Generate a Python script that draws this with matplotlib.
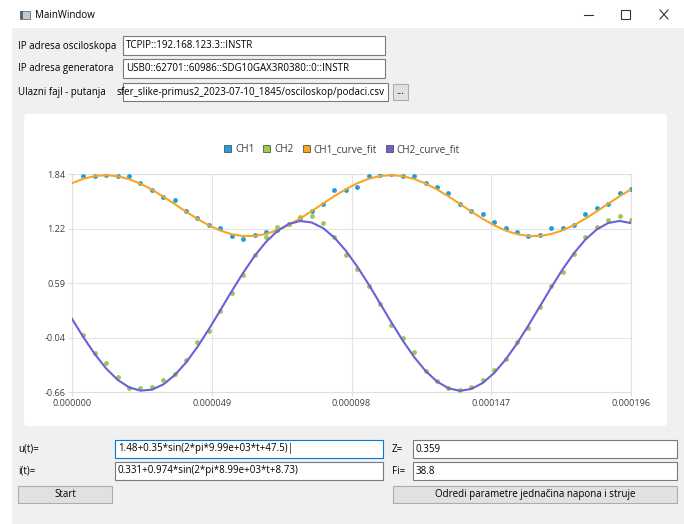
import matplotlib
matplotlib.use("Agg")
import matplotlib.pyplot as plt
from matplotlib.patches import Rectangle, FancyBboxPatch, Patch
import numpy as np

W, H = 684, 524

# samples (4 us spacing)
t_samples = np.arange(1, 50) * 4e-06
ch1 = [1.82, 1.82, 1.835, 1.82, 1.82, 1.74, 1.66, 1.58, 1.545, 1.42,
       1.34, 1.255, 1.22, 1.135, 1.10, 1.14, 1.18, 1.20, 1.27, 1.34,
       1.42, 1.50, 1.66, 1.66, 1.695, 1.82, 1.835, 1.84, 1.82, 1.82,
       1.74, 1.70, 1.62, 1.50, 1.415, 1.38, 1.295, 1.225, 1.18, 1.135,
       1.14, 1.22, 1.22, 1.26, 1.38, 1.455, 1.50, 1.62, 1.67]
ch2 = [0.0, -0.205, -0.32, -0.483, -0.605, -0.605, -0.603, -0.522, -0.448, -0.288,
       -0.083, 0.045, 0.276, 0.48, 0.68, 0.915, 1.117, 1.235, 1.27, 1.354,
       1.362, 1.278, 1.117, 0.915, 0.757, 0.557, 0.353, 0.115, -0.04, -0.20,
       -0.41, -0.53, -0.607, -0.634, -0.596, -0.522, -0.40, -0.282, -0.083, 0.077,
       0.315, 0.559, 0.723, 0.923, 1.121, 1.24, 1.316, 1.362, 1.316]

# fitted curves
t_fit = np.arange(0, 50) * 4e-06
fit1 = [1.738, 1.789, 1.820, 1.830, 1.818, 1.785, 1.733, 1.664, 1.585, 1.498,
        1.411, 1.328, 1.254, 1.195, 1.153, 1.132, 1.133, 1.156, 1.198, 1.259,
        1.333, 1.417, 1.504, 1.590, 1.669, 1.737, 1.788, 1.820, 1.830, 1.819,
        1.786, 1.734, 1.666, 1.587, 1.501, 1.413, 1.330, 1.256, 1.196, 1.154,
        1.133, 1.133, 1.155, 1.197, 1.257, 1.331, 1.415, 1.502, 1.588, 1.668]
fit2 = [0.183, -0.029, -0.222, -0.388, -0.517, -0.603, -0.641, -0.630, -0.570, -0.464,
        -0.318, -0.139, 0.064, 0.281, 0.500, 0.710, 0.902, 1.064, 1.189, 1.271,
        1.304, 1.288, 1.224, 1.114, 0.964, 0.783, 0.578, 0.360, 0.142, -0.068,
        -0.257, -0.416, -0.537, -0.614, -0.643, -0.622, -0.553, -0.439, -0.286, -0.102,
        0.105, 0.323, 0.541, 0.749, 0.935, 1.091, 1.208, 1.281, 1.305, 1.280]

xticks = [0.0, 0.000049, 0.000098, 0.000147, 0.000196]
xlabels = ["0.000000", "0.000049", "0.000098", "0.000147", "0.000196"]
yticks = [-0.66, -0.035, 0.59, 1.215, 1.84]
ylabels = ["-0.66", "-0.04", "0.59", "1.22", "1.84"]

names = ["CH1", "CH2", "CH1_curve_fit", "CH2_curve_fit"]
colors = ["#209fdf", "#99ca53", "#f6a625", "#6d5fd5"]

u_text = "1.48+0.35*sin(2*pi*9.99e+03*t+47.5)"
i_text = "0.331+0.974*sin(2*pi*8.99e+03*t+8.73)"
z_text = "0.359"
fi_text = "38.8"

plt.rcParams['font.family'] = ['Open Sans', 'DejaVu Sans']

fig = plt.figure(figsize=(W / 100, H / 100), dpi=100)
fig.patch.set_facecolor("white")

ui = fig.add_axes([0, 0, 1, 1])
ui.set_xlim(0, W)
ui.set_ylim(H, 0)
ui.axis("off")

fs = 7


def field(x0, y0, x1, y1, text, edge="#7a7a7a", ha="left"):
    ui.add_patch(Rectangle((x0, y0), x1 - x0, y1 - y0, fc="white", ec=edge, lw=0.8))
    r = Rectangle((x0, y0), x1 - x0, y1 - y0, transform=ui.transData)
    tx = x0 + 3 if ha == "left" else x1 - 3
    t = ui.text(tx, (y0 + y1) / 2, text, ha=ha, va="center", fontsize=fs, color="black")
    t.set_clip_path(r)


def button(x0, y0, x1, y1, text):
    ui.add_patch(Rectangle((x0, y0), x1 - x0, y1 - y0, fc="#e1e1e1", ec="#adadad", lw=0.8))
    ui.text((x0 + x1) / 2, (y0 + y1) / 2, text, ha="center", va="center", fontsize=fs, color="black")


# window
ui.add_patch(Rectangle((12, 28), W - 12, H - 28, fc="#f0f0f0", ec="none"))
ui.add_patch(Rectangle((20, 11), 10, 8, fc="#c8c8c8", ec="#6d6d6d", lw=0.6))
ui.add_patch(Rectangle((20, 11), 3, 8, fc="#4a6a8a", ec="none"))
ui.text(35, 15, "MainWindow", ha="left", va="center", fontsize=fs, color="black")
ui.plot([584, 593], [15, 15], color="#333333", lw=0.8)
ui.add_patch(Rectangle((621, 10), 9, 9, fc="none", ec="#333333", lw=0.8))
ui.plot([660, 668], [10, 19], color="#333333", lw=0.8)
ui.plot([660, 668], [19, 10], color="#333333", lw=0.8)

# top rows
ui.text(18, 46, "IP adresa osciloskopa", ha="left", va="center", fontsize=fs)
field(123, 36, 385, 55, "TCPIP::192.168.123.3::INSTR")
ui.text(18, 69, "IP adresa generatora", ha="left", va="center", fontsize=fs)
field(123, 59, 385, 78, "USB0::62701::60986::SDG10GAX3R0380::0::INSTR")
ui.text(18, 92, "Ulazni fajl - putanja", ha="left", va="center", fontsize=fs)
field(123, 83, 388, 101, "sfer_slike-primus2_2023-07-10_1845/osciloskop/podaci.csv", ha="right")
button(393, 84, 408, 100, "...")

# chart panel
ui.add_patch(FancyBboxPatch((24, 114), 643, 312, boxstyle="round,pad=0,rounding_size=4",
                            fc="white", ec="none"))

# bottom rows
ui.text(18, 449, "u(t)=", ha="left", va="center", fontsize=fs)
field(115, 440, 383, 458, u_text + "|", edge="#0078d7")
ui.text(392, 449, "Z=", ha="left", va="center", fontsize=fs)
field(413, 440, 677, 458, z_text)
ui.text(18, 471, "i(t)=", ha="left", va="center", fontsize=fs)
field(115, 462, 383, 480, i_text)
ui.text(392, 471, "Fi=", ha="left", va="center", fontsize=fs)
field(413, 462, 677, 480, fi_text)
button(18, 486, 112, 503, "Start")
button(393, 486, 677, 503, "Odredi parametre jednačina napona i struje")

# chart
ax = fig.add_axes([72 / W, 1 - 392.3 / H, 559 / W, 218 / H])
ax.set_facecolor("white")
ax.plot(t_samples, ch1, "o", ms=3.5, mew=0, color=colors[0], zorder=3)
ax.plot(t_samples, ch2, "o", ms=3.5, mew=0, color=colors[1], zorder=3)
ax.plot(t_fit, fit1, "-", lw=1.5, color=colors[2], zorder=4)
ax.plot(t_fit, fit2, "-", lw=1.5, color=colors[3], zorder=5)
ax.set_xlim(xticks[0], xticks[-1])
ax.set_ylim(yticks[0], yticks[-1])
ax.set_xticks(xticks)
ax.set_xticklabels(xlabels)
ax.set_yticks(yticks)
ax.set_yticklabels(ylabels)
ax.grid(True, color="#e4e4e4", lw=0.8, zorder=0)
ax.set_axisbelow(True)
for s in ax.spines.values():
    s.set_color("#e0e0e0")
    s.set_linewidth(0.8)
ax.tick_params(length=3, width=0.8, color="#e0e0e0", labelsize=6.6, labelcolor="#404044", pad=1.5)

handles = [Patch(facecolor=c, edgecolor="#3c3c3c", lw=0.5) for c in colors]
ax.legend(handles, names, loc="lower center", bbox_to_anchor=(0.483, 1.07), ncol=4, frameon=False,
          fontsize=7.2, handlelength=0.7, handleheight=0.7, handletextpad=0.4, columnspacing=0.9,
          labelcolor="#404044", borderaxespad=0)

fig.savefig("out.png", dpi=100, facecolor=fig.get_facecolor())
